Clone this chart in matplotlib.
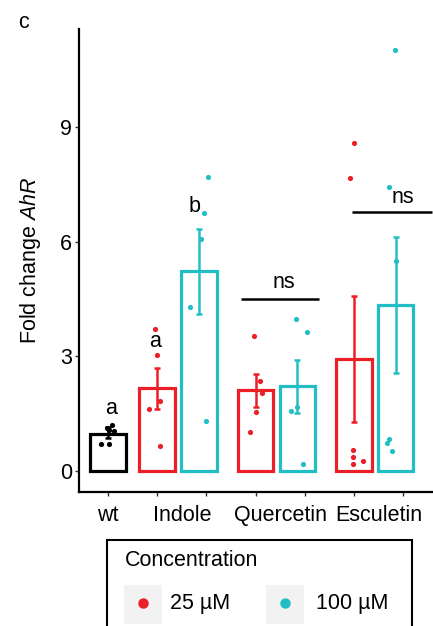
"""Fold change of AhR per treatment, bars with SE, points and letters."""
import matplotlib
matplotlib.use("Agg")
import matplotlib.pyplot as plt
from matplotlib.patches import Rectangle
import numpy as np

plt.rcParams["font.family"] = ["Liberation Sans", "DejaVu Sans"]
plt.rcParams["mathtext.fontset"] = "custom"
plt.rcParams["mathtext.rm"] = "Liberation Sans"
plt.rcParams["mathtext.it"] = "Liberation Sans:italic"

RED = "#EC1F27"
CYAN = "#22BEC6"

# one entry per bar, left to right
concentration = ["wt", "25", "100", "25", "100", "25", "100"]
means = [0.97, 2.16, 5.24, 2.11, 2.22, 2.92, 4.35]
err_low = [0.86, 1.62, 4.11, 1.68, 1.51, 1.27, 2.57]
err_high = [1.16, 2.69, 6.34, 2.54, 2.91, 4.58, 6.12]

points = [
    [0.70, 0.70, 1.12, 1.20, 1.05, 1.07],
    [3.71, 3.04, 1.62, 1.84, 0.65],
    [7.70, 6.75, 6.07, 4.30, 1.32],
    [3.53, 2.36, 2.03, 1.54, 1.01],
    [3.98, 3.65, 1.67, 1.57, 0.19],
    [8.58, 7.67, 0.55, 0.37, 0.18, 0.25],
    [11.02, 7.44, 5.50, 0.83, 0.74, 0.53],
]
jitter = [
    [-0.14, 0.02, -0.03, 0.08, 0.12, 0.02],
    [-0.05, 0.00, -0.17, 0.06, 0.06],
    [0.19, 0.10, 0.04, -0.18, 0.14],
    [-0.04, 0.09, 0.14, 0.00, -0.11],
    [-0.02, 0.20, 0.00, -0.13, 0.12],
    [0.00, -0.08, -0.02, -0.02, -0.02, 0.18],
    [-0.01, -0.14, 0.00, -0.14, -0.17, -0.08],
]

group_labels = ["wt", "Indole", "Quercetin", "Esculetin"]
group_label_pos = [1, 2.5, 4.5, 6.5]

letters = ["a", "a", "b"]
letter_x = [1.07, 1.96, 2.76]
letter_y = [1.49, 3.25, 6.79]

ns_lines = [(3.70, 5.30, 4.50), (5.96, 7.60, 6.77)]
ns_text = [(4.58, 4.78), (6.99, 7.02)]

colors = {"wt": "black", "25": RED, "100": CYAN}
shift = {"wt": 0.0, "25": 0.0, "100": -0.15}

W, H = 433, 626
fig = plt.figure(figsize=(W / 100, H / 100), dpi=100)
ax = fig.add_axes([79 / W, 1 - 492 / H, (432 - 79) / W, (492 - 29) / H])

ticks = np.arange(1, 8)
for i, conc in enumerate(concentration):
    x = ticks[i] + shift[conc]
    c = colors[conc]
    ax.bar(x, means[i], width=0.72, facecolor="white", edgecolor=c,
           linewidth=2.3, zorder=2)
    ax.errorbar(x, means[i],
                yerr=[[means[i] - err_low[i]], [err_high[i] - means[i]]],
                fmt="none", ecolor=c, elinewidth=1.8, capsize=2.5,
                capthick=1.8, zorder=3)
    ax.scatter(x + np.array(jitter[i]), points[i], s=14, color=c,
               linewidths=0, zorder=4)

for t, x, y in zip(letters, letter_x, letter_y):
    ax.text(x, y, t, ha="center", va="baseline", fontsize=15.5)

for (x0, x1, y), (tx, ty) in zip(ns_lines, ns_text):
    ax.plot([x0, x1], [y, y], color="black", lw=1.8, clip_on=False,
            solid_capstyle="butt")
    ax.text(tx, ty, "ns", ha="center", va="baseline", fontsize=15.5)

ax.set_xlim(0.41, 7.59)
ax.set_ylim(-0.55, 11.57)
ax.set_yticks([0, 3, 6, 9])
ax.set_xticks(ticks)
ax.set_xticklabels([])
ax.xaxis.remove_overlapping_locs = False
ax.set_xticks(group_label_pos, minor=True)
ax.set_xticklabels(group_labels, minor=True)
ax.tick_params(axis="x", which="minor", length=0, pad=9.5, labelsize=15.5)
ax.tick_params(axis="x", which="major", length=3, width=1, color="#333333")
ax.tick_params(axis="y", length=3, width=1, color="#333333", pad=2,
               labelsize=15.5)

for side in ["top", "right"]:
    ax.spines[side].set_visible(False)
for side in ["left", "bottom"]:
    ax.spines[side].set_linewidth(1.6)

ax.set_ylabel("Fold change $\\it{AhR}$", fontsize=15.5, labelpad=12)

fig.text(18 / W, 1 - 22 / H, "c", fontsize=15.5, va="center", ha="left")

# legend drawn by hand, it runs off the bottom edge
def px(x, y):
    return x / W, 1 - y / H

fig.patches.append(Rectangle(px(107, 660), (412 - 107) / W, 120 / H,
                             transform=fig.transFigure, fill=False,
                             edgecolor="black", linewidth=1.5, clip_on=False))
fig.text(*px(125, 560), "Concentration", fontsize=15.5, va="center")
for x0, conc, label, tx in [(124, "25", "25 µM", 170), (266, "100", "100 µM", 316)]:
    fig.patches.append(Rectangle(px(x0, 624), 38 / W, 39 / H,
                                 transform=fig.transFigure,
                                 facecolor="#F2F2F2", edgecolor="none"))
    fig.add_artist(plt.Line2D([(x0 + 19) / W], [1 - 603 / H],
                              transform=fig.transFigure, marker="o",
                              markersize=6.5, color=colors[conc],
                              markeredgecolor=colors[conc]))
    fig.text(*px(tx, 603), label, fontsize=15.5, va="center")

fig.savefig("out.png", dpi=100)
